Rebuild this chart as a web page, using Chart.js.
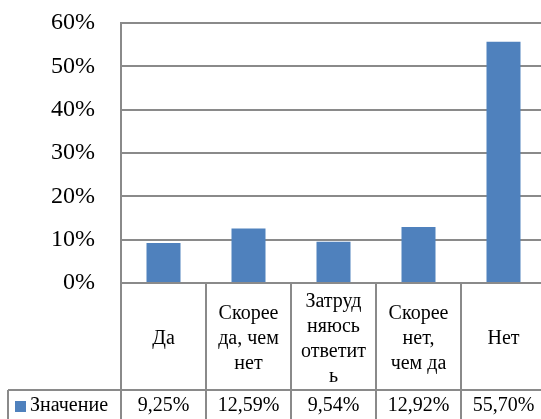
<!DOCTYPE html>
<html>
<head>
<meta charset="utf-8">
<script src="https://cdn.jsdelivr.net/npm/chart.js@4"></script>
<style>
  html, body { margin: 0; padding: 0; background: #fff; overflow: hidden; }
  #wrap { width: 548px; height: 425px; }
</style>
</head>
<body>
<div id="wrap"><canvas id="chart" width="548" height="425"></canvas></div>
<script>
// categories (wrapped the way the table shows them)
const categories = [
    ['Да'],
    ['Скорее', 'да, чем', 'нет'],
    ['Затруд', 'няюсь', 'ответит', 'ь'],
    ['Скорее', 'нет,', 'чем да'],
    ['Нет']
];
const seriesName = 'Значение';
const values = [9.25, 12.59, 9.54, 12.92, 55.70];
const yTicks = [0, 10, 20, 30, 40, 50, 60];

const barColor = '#4F81BD';
const lineColor = '#8a8a8a';
const font = "'Liberation Serif', 'Times New Roman', serif";

function fmtValue(v) {
    return v.toFixed(2).replace('.', ',') + '%';
}

// draws the data table under the plot
const dataTable = {
    id: 'dataTable',
    afterDraw(chart) {
        const ctx = chart.ctx;
        const area = chart.chartArea;
        const xs = chart.scales.x;
        const half = (xs.getPixelForValue(1) - xs.getPixelForValue(0)) / 2;
        const headTop = area.bottom;
        const rowTop = headTop + 107;
        const bottom = chart.height;
        const legendLeft = 8;

        ctx.save();
        ctx.strokeStyle = lineColor;
        ctx.lineWidth = 2;
        ctx.beginPath();
        for (let i = 0; i <= categories.length; i++) {
            const x = xs.getPixelForValue(0) - half + i * 2 * half;
            ctx.moveTo(x, headTop);
            ctx.lineTo(x, bottom);
        }
        ctx.moveTo(legendLeft, rowTop);
        ctx.lineTo(area.right, rowTop);
        ctx.moveTo(legendLeft, rowTop);
        ctx.lineTo(legendLeft, bottom);
        ctx.stroke();

        ctx.fillStyle = '#000';
        ctx.font = '20px ' + font;
        ctx.textAlign = 'center';
        ctx.textBaseline = 'middle';
        const lineH = 25;
        const midHead = headTop + 56;
        categories.forEach((lines, i) => {
            const cx = xs.getPixelForValue(i);
            const y0 = midHead - (lines.length - 1) * lineH / 2;
            lines.forEach((t, j) => ctx.fillText(t, cx, y0 + j * lineH));
        });

        const rowMid = rowTop + 16;
        values.forEach((v, i) => {
            ctx.fillText(fmtValue(v), xs.getPixelForValue(i), rowMid);
        });

        ctx.fillStyle = barColor;
        ctx.fillRect(15, rowMid - 5, 11, 11);
        ctx.fillStyle = '#000';
        ctx.textAlign = 'left';
        ctx.fillText(seriesName, 30, rowMid);
        ctx.restore();
    }
};

function draw() {
    new Chart(document.getElementById('chart'), {
        type: 'bar',
        data: {
            labels: categories,
            datasets: [{
                label: seriesName,
                data: values,
                backgroundColor: barColor,
                categoryPercentage: 1,
                barPercentage: 0.4
            }]
        },
        options: {
            responsive: false,
            animation: false,
            layout: { padding: { left: 0, top: 23, right: 2, bottom: 142 } },
            plugins: {
                legend: { display: false },
                tooltip: { enabled: false }
            },
            scales: {
                x: { display: false },
                y: {
                    min: yTicks[0],
                    max: yTicks[yTicks.length - 1],
                    afterBuildTicks(scale) {
                        scale.ticks = yTicks.map(v => ({ value: v }));
                    },
                    afterFit(scale) {
                        scale.width = 121;
                        scale.paddingTop = 0;
                        scale.paddingBottom = 0;
                    },
                    grid: { color: lineColor, lineWidth: 2, drawTicks: false },
                    border: { display: true, color: lineColor, width: 2 },
                    ticks: {
                        padding: 26,
                        color: '#000',
                        font: { family: font, size: 24 },
                        callback: v => v + '%'
                    }
                }
            }
        },
        plugins: [dataTable]
    });
}

Promise.all([
    document.fonts.load("20px 'Liberation Serif'"),
    document.fonts.load("24px 'Liberation Serif'")
]).catch(() => {}).then(draw);
</script>
</body>
</html>
